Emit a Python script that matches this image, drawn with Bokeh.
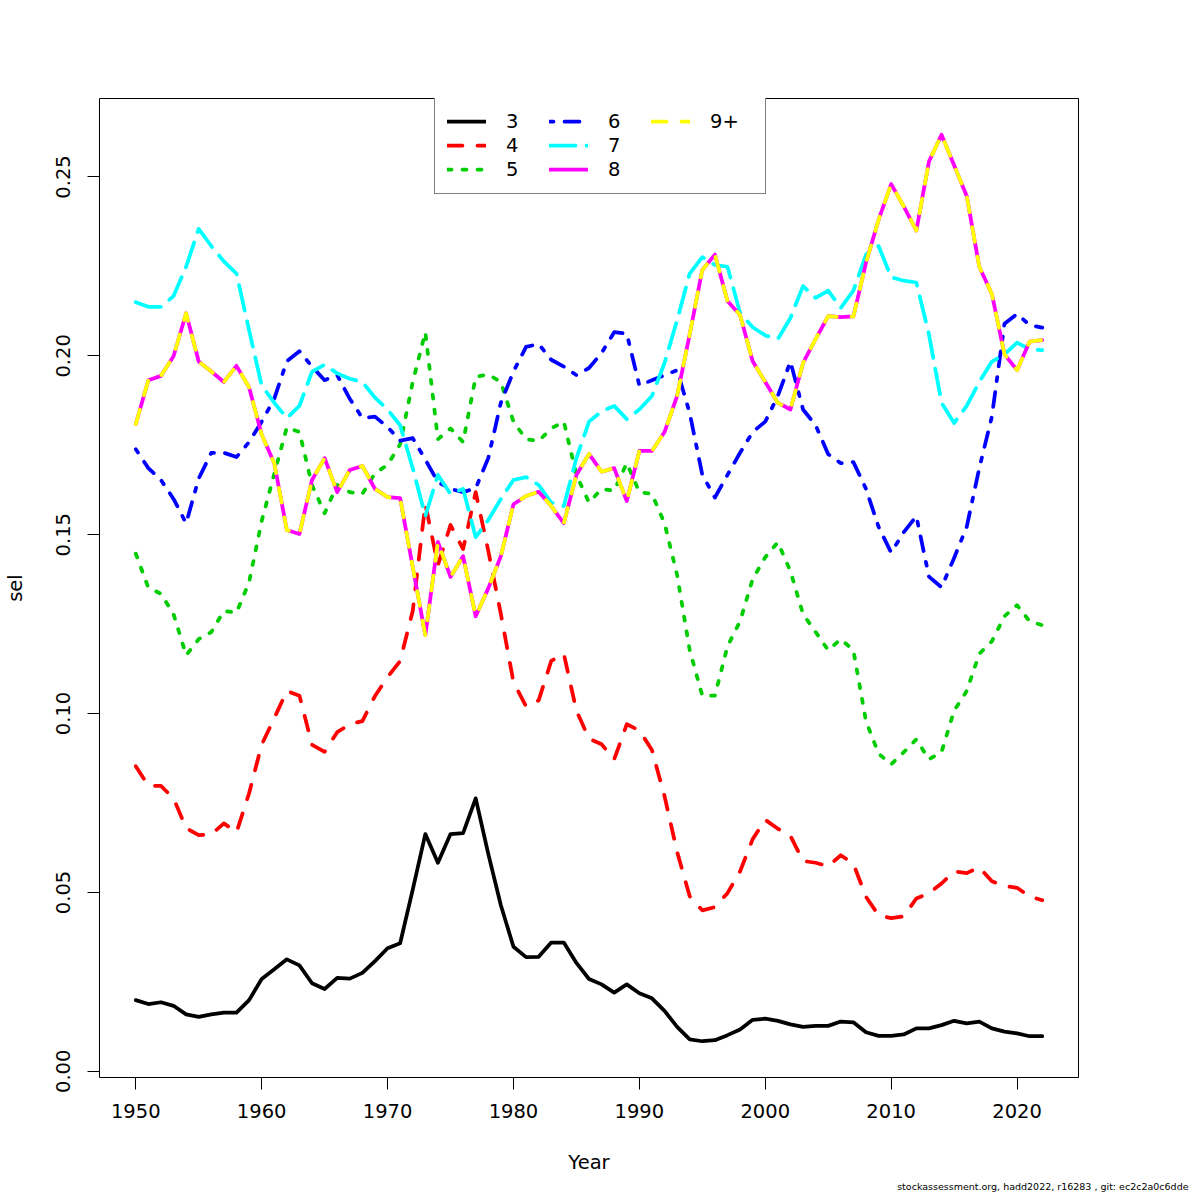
from bokeh.plotting import figure
from bokeh.models import Range1d, FixedTicker, PrintfTickFormatter, Legend, LegendItem, Title
from bokeh.embed import file_html
from bokeh.resources import INLINE

years = list(range(1950, 2023))

s3 = [0.0199, 0.0188, 0.0193, 0.0183, 0.0159, 0.0152, 0.0159, 0.0164, 0.0164, 0.0199,
      0.0258, 0.0285, 0.0313, 0.0296, 0.0246, 0.0230, 0.0261, 0.0259, 0.0275, 0.0308,
      0.0344, 0.0358, 0.0508, 0.0663, 0.0583, 0.0663, 0.0666, 0.0763, 0.0608, 0.0464,
      0.0348, 0.0319, 0.0320, 0.0360, 0.0360, 0.0303, 0.0258, 0.0243, 0.0220, 0.0243,
      0.0218, 0.0204, 0.0169, 0.0124, 0.0089, 0.0084, 0.0087, 0.0101, 0.0117, 0.0144,
      0.0147, 0.0141, 0.0131, 0.0124, 0.0127, 0.0127, 0.0139, 0.0137, 0.0109, 0.0099,
      0.0099, 0.0103, 0.0120, 0.0120, 0.0129, 0.0141, 0.0134, 0.0139, 0.0120, 0.0111,
      0.0106, 0.0098, 0.0098]

s4 = [0.0853, 0.0798, 0.0798, 0.0763, 0.0680, 0.0660, 0.0662, 0.0693, 0.0668, 0.0777,
      0.0913, 0.0987, 0.1063, 0.1050, 0.0913, 0.0893, 0.0948, 0.0970, 0.0979, 0.1049,
      0.1102, 0.1147, 0.1287, 0.1586, 0.1415, 0.1527, 0.1460, 0.1619, 0.1455, 0.1278,
      0.1088, 0.1020, 0.1037, 0.1147, 0.1167, 0.1008, 0.0930, 0.0914, 0.0872, 0.0970,
      0.0953, 0.0898, 0.0769, 0.0613, 0.0489, 0.0450, 0.0459, 0.0498, 0.0559, 0.0649,
      0.0703, 0.0678, 0.0658, 0.0588, 0.0583, 0.0573, 0.0604, 0.0580, 0.0488, 0.0436,
      0.0428, 0.0433, 0.0483, 0.0498, 0.0525, 0.0559, 0.0554, 0.0570, 0.0531, 0.0518,
      0.0513, 0.0489, 0.0478]

s5 = [0.1447, 0.1352, 0.1335, 0.1278, 0.1163, 0.1208, 0.1228, 0.1287, 0.1282, 0.1367,
      0.1538, 0.1670, 0.1800, 0.1787, 0.1639, 0.1560, 0.1639, 0.1619, 0.1614, 0.1672,
      0.1695, 0.1753, 0.1927, 0.2066, 0.1767, 0.1797, 0.1759, 0.1941, 0.1948, 0.1927,
      0.1816, 0.1767, 0.1762, 0.1797, 0.1816, 0.1667, 0.1590, 0.1628, 0.1623, 0.1700,
      0.1619, 0.1614, 0.1532, 0.1387, 0.1177, 0.1050, 0.1050, 0.1188, 0.1258, 0.1376,
      0.1437, 0.1479, 0.1398, 0.1278, 0.1228, 0.1177, 0.1208, 0.1177, 0.0979, 0.0888,
      0.0858, 0.0892, 0.0928, 0.0872, 0.0892, 0.1008, 0.1063, 0.1167, 0.1202, 0.1272,
      0.1303, 0.1258, 0.1247]

s6 = [0.1739, 0.1686, 0.1653, 0.1600, 0.1532, 0.1657, 0.1729, 0.1729, 0.1717, 0.1759,
      0.1816, 0.1880, 0.1985, 0.2013, 0.1970, 0.1932, 0.1946, 0.1880, 0.1826, 0.1830,
      0.1801, 0.1763, 0.1770, 0.1710, 0.1647, 0.1628, 0.1619, 0.1630, 0.1714, 0.1869,
      0.1956, 0.2025, 0.2033, 0.1989, 0.1970, 0.1946, 0.1966, 0.2008, 0.2066, 0.2062,
      0.1917, 0.1932, 0.1946, 0.1960, 0.1840, 0.1667, 0.1604, 0.1667, 0.1729, 0.1787,
      0.1816, 0.1888, 0.1984, 0.1850, 0.1806, 0.1725, 0.1700, 0.1703, 0.1628, 0.1522,
      0.1450, 0.1507, 0.1552, 0.1383, 0.1353, 0.1435, 0.1522, 0.1686, 0.1830, 0.2090,
      0.2117, 0.2086, 0.2079]

s7 = [0.2150, 0.2137, 0.2137, 0.2167, 0.2249, 0.2355, 0.2307, 0.2264, 0.2230, 0.2072,
      0.1917, 0.1869, 0.1826, 0.1860, 0.1956, 0.1975, 0.1951, 0.1936, 0.1927, 0.1883,
      0.1850, 0.1806, 0.1686, 0.1552, 0.1667, 0.1614, 0.1628, 0.1493, 0.1541, 0.1600,
      0.1653, 0.1661, 0.1639, 0.1590, 0.1580, 0.1714, 0.1816, 0.1845, 0.1860, 0.1823,
      0.1850, 0.1888, 0.1980, 0.2100, 0.2230, 0.2276, 0.2254, 0.2249, 0.2120, 0.2080,
      0.2057, 0.2047, 0.2106, 0.2195, 0.2162, 0.2182, 0.2134, 0.2182, 0.2283, 0.2307,
      0.2220, 0.2210, 0.2205, 0.2060, 0.1869, 0.1812, 0.1860, 0.1927, 0.1984, 0.2004,
      0.2037, 0.2018, 0.2016]

s8 = [0.1809, 0.1932, 0.1944, 0.1999, 0.2119, 0.1984, 0.1956, 0.1927, 0.1972, 0.1912,
      0.1780, 0.1700, 0.1513, 0.1502, 0.1653, 0.1714, 0.1619, 0.1681, 0.1692, 0.1628,
      0.1605, 0.1602, 0.1410, 0.1219, 0.1480, 0.1382, 0.1440, 0.1272, 0.1350, 0.1440,
      0.1585, 0.1608, 0.1620, 0.1580, 0.1532, 0.1667, 0.1726, 0.1676, 0.1686, 0.1594,
      0.1734, 0.1734, 0.1787, 0.1888, 0.2061, 0.2240, 0.2283, 0.2153, 0.2114, 0.1985,
      0.1927, 0.1869, 0.1850, 0.1980, 0.2047, 0.2111, 0.2108, 0.2110, 0.2260, 0.2380,
      0.2480, 0.2418, 0.2350, 0.2543, 0.2618, 0.2533, 0.2447, 0.2249, 0.2173, 0.2004,
      0.1960, 0.2040, 0.2044]

s9 = [0.1809, 0.1932, 0.1944, 0.1999, 0.2119, 0.1984, 0.1956, 0.1927, 0.1972, 0.1912,
      0.1780, 0.1700, 0.1513, 0.1502, 0.1653, 0.1714, 0.1619, 0.1681, 0.1692, 0.1628,
      0.1605, 0.1602, 0.1410, 0.1219, 0.1480, 0.1382, 0.1440, 0.1272, 0.1350, 0.1440,
      0.1585, 0.1608, 0.1620, 0.1580, 0.1532, 0.1667, 0.1726, 0.1676, 0.1686, 0.1594,
      0.1734, 0.1734, 0.1787, 0.1888, 0.2061, 0.2240, 0.2283, 0.2153, 0.2114, 0.1985,
      0.1927, 0.1869, 0.1850, 0.1980, 0.2047, 0.2111, 0.2108, 0.2110, 0.2260, 0.2380,
      0.2480, 0.2418, 0.2350, 0.2543, 0.2618, 0.2533, 0.2447, 0.2249, 0.2173, 0.2004,
      0.1960, 0.2040, 0.2044]

ages = ["3", "4", "5", "6", "7", "8", "9+"]
x_ticks = [1950, 1960, 1970, 1980, 1990, 2000, 2010, 2020]
y_ticks = [0.0, 0.05, 0.10, 0.15, 0.20, 0.25]
footer = "stockassessment.org, hadd2022, r16283 , git: ec2c2a0c6dde"

colors = ["#000000", "#FF0000", "#00CD00", "#0000FF", "#00FFFF", "#FF00FF", "#FFFF00"]
dashes = ["solid", "15 15", "4 11", "4 11 15 11", "26 11", "solid", "15 15"]
values = [s3, s4, s5, s6, s7, s8, s9]

FONT = "DejaVu Sans"
FS = "19.5px"

allv = [v for s in values for v in s]
ymin, ymax = min(allv), max(allv)
ypad = 0.04 * (ymax - ymin)
xpad = 0.04 * (years[-1] - years[0])

p = figure(frame_width=979, frame_height=979,
           x_range=Range1d(years[0] - xpad, years[-1] + xpad),
           y_range=Range1d(ymin - ypad, ymax + ypad),
           output_backend="svg", toolbar_location=None,
           min_border_left=98, min_border_top=98,
           min_border_right=115, min_border_bottom=107)
p.grid.visible = False
p.outline_line_color = "black"
p.outline_line_width = 1
p.background_fill_color = "white"
p.border_fill_color = "white"

for ax in (p.xaxis[0], p.yaxis[0]):
    ax.axis_line_color = None
    ax.major_tick_line_color = "black"
    ax.major_tick_line_width = 1
    ax.major_tick_out = 12
    ax.major_tick_in = 0
    ax.minor_tick_line_color = None
    ax.major_label_text_font = FONT
    ax.major_label_text_font_size = FS
    ax.major_label_text_color = "black"
    ax.axis_label_text_font = FONT
    ax.axis_label_text_font_size = FS
    ax.axis_label_text_font_style = "normal"
    ax.axis_label_text_color = "black"

p.xaxis.ticker = FixedTicker(ticks=x_ticks)
p.yaxis.ticker = FixedTicker(ticks=y_ticks)
p.yaxis.formatter = PrintfTickFormatter(format="%.2f")
p.yaxis.major_label_orientation = "vertical"
p.xaxis.major_label_standoff = 14
p.yaxis.major_label_standoff = 17
p.xaxis.axis_label = "Year"
p.yaxis.axis_label = "sel"
p.xaxis.axis_label_standoff = 30
p.yaxis.axis_label_standoff = 27

items = []
for name, s, c, d in zip(ages, values, colors, dashes):
    r = p.line(years, s, line_color=c, line_width=3.75, line_dash=d,
               line_cap="round", line_join="round")
    items.append(LegendItem(label=name, renderers=[r]))

legend = Legend(items=items, location=(335, 883), orientation="vertical", nrows=3,
                glyph_width=39, glyph_height=24, label_height=24, label_width=43,
                label_standoff=20, spacing=0, padding=12, margin=0,
                border_line_color="black", border_line_width=1,
                background_fill_color="white", background_fill_alpha=1,
                label_text_font=FONT, label_text_font_size=FS, label_text_color="black")
p.add_layout(legend, "center")

p.add_layout(Title(text=footer, align="right", text_font=FONT, text_font_size="9.5px",
                   text_font_style="normal", text_color="black",
                   standoff=4, offset=-110), "below")

open("out.html", "w").write(file_html(p, INLINE))
